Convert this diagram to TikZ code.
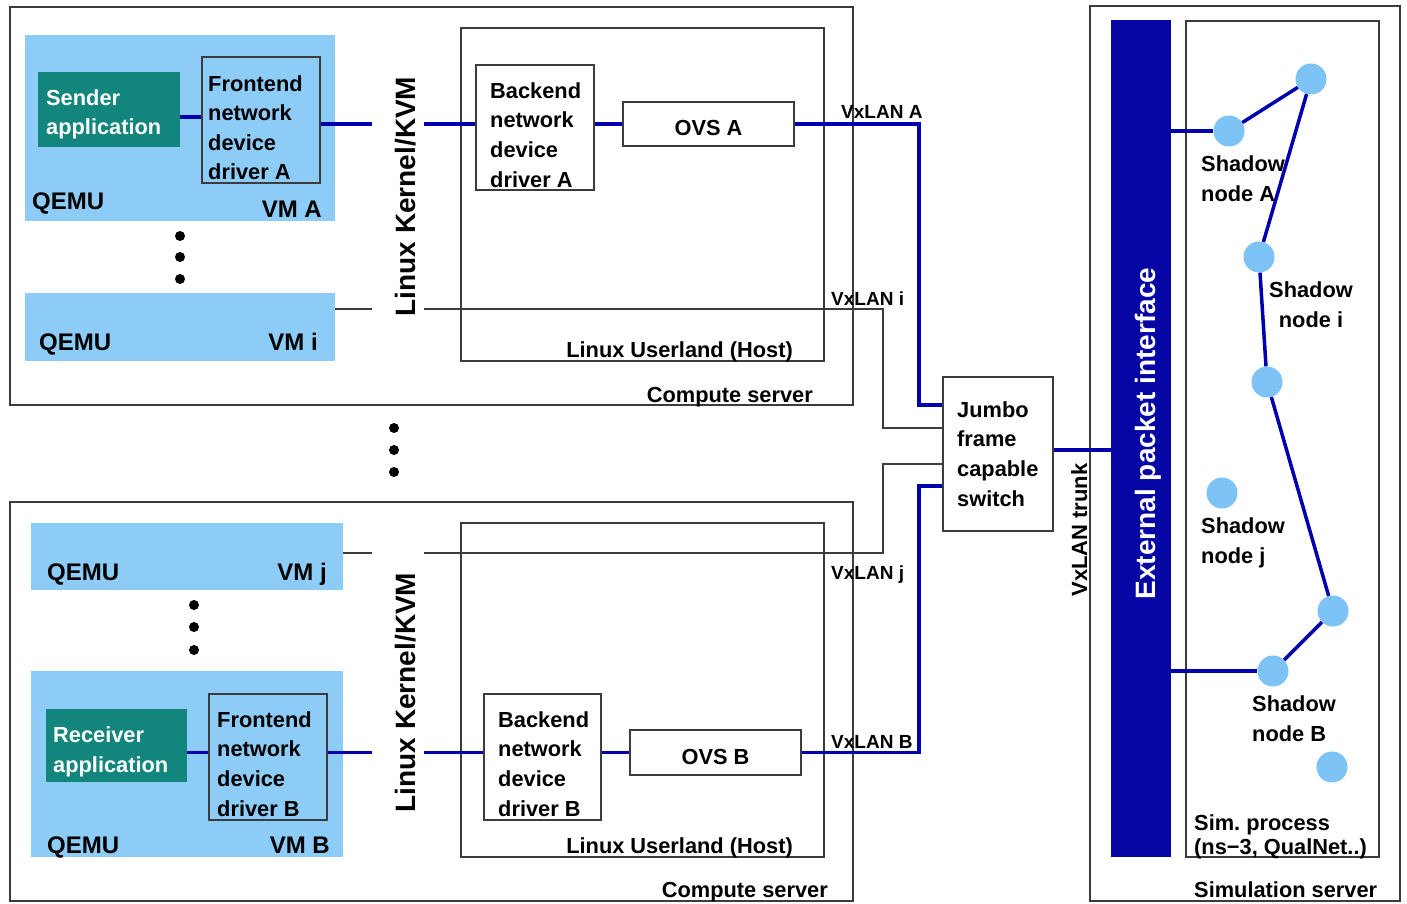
\documentclass[tikz,border=0pt]{standalone}
\usepackage{fontspec}
\setmainfont{Liberation Sans}
\definecolor{vmblue}{RGB}{140,204,246}
\definecolor{appteal}{RGB}{18,134,124}
\definecolor{linkblue}{RGB}{0,0,175}
\definecolor{epiblue}{RGB}{6,6,165}
\definecolor{shadowblue}{RGB}{125,195,245}
\definecolor{linegray}{RGB}{60,60,60}
\begin{document}
\begin{tikzpicture}[x=1pt,y=-1pt,
  boxline/.style={draw=linegray, line width=1.1pt, inner sep=0pt},
  vm/.style={fill=vmblue, inner sep=0pt},
  app/.style={fill=appteal, inner sep=0pt},
  link/.style={draw=linkblue, line width=3.5pt},
  thinlink/.style={draw=linegray, line width=1.1pt},
  lbl/.style={font=\bfseries\fontsize{21.8}{29.6}\selectfont, inner sep=0pt, align=left},
  bigl/.style={font=\bfseries\fontsize{24}{28}\selectfont, inner sep=0pt},
  vx/.style={font=\bfseries\fontsize{19}{23}\selectfont, inner sep=0pt},
  kern/.style={font=\bfseries\fontsize{28}{32}\selectfont, inner sep=0pt, rotate=90, anchor=base},
  dotc/.style={circle, fill=black, minimum size=10pt, inner sep=0pt},
  shnode/.style={circle, fill=shadowblue, minimum size=31pt, inner sep=0pt},
]
\fill[white] (0,0) rectangle (1407,904);
\useasboundingbox (0,0) rectangle (1407,904);

% ---------- top compute server ----------
\node[boxline, minimum width=843, minimum height=398] (csA) at (431.5,206) {};
\node[vm, minimum width=310, minimum height=186] (vmA) at (180,128) {};
\node[app, minimum width=142, minimum height=75] (sendA) at (109,109.5) {};
\node[boxline, minimum width=118, minimum height=126] (feA) at (261,120) {};
\node[vm, minimum width=310, minimum height=68] (vmI) at (180,327) {};
\node[boxline, minimum width=363, minimum height=333] (ulA) at (642.5,194.5) {};
\node[boxline, minimum width=118, minimum height=125] (beA) at (535,127.5) {};
\node[boxline, minimum width=171, minimum height=44] (ovsA) at (708.5,124) {};

% ---------- switch ----------
\node[boxline, minimum width=110, minimum height=154] (sw) at (998,454) {};

% ---------- bottom compute server ----------
\node[boxline, minimum width=843, minimum height=399] (csB) at (431.5,701.5) {};
\node[vm, minimum width=312, minimum height=67] (vmJ) at (187,556.5) {};
\node[vm, minimum width=312, minimum height=186] (vmB) at (187,764) {};
\node[app, minimum width=141, minimum height=73] (recvB) at (116.5,745.5) {};
\node[boxline, minimum width=118, minimum height=126] (feB) at (268,757) {};
\node[boxline, minimum width=363, minimum height=334] (ulB) at (642.5,690) {};
\node[boxline, minimum width=117, minimum height=126] (beB) at (542.5,757) {};
\node[boxline, minimum width=171, minimum height=45] (ovsB) at (715.5,752.5) {};

% ---------- simulation server ----------
\node[boxline, minimum width=310, minimum height=895] (ss) at (1245,453.5) {};
\node[fill=epiblue, inner sep=0pt, minimum width=60, minimum height=837] (epi) at (1141,438.5) {};
\node[boxline, minimum width=193, minimum height=836] (sp) at (1282.5,439) {};

% ---------- helper coordinates ----------
\coordinate (kl) at (372,0);
\coordinate (kr) at (424,0);
\coordinate (xa) at (919,0);
\coordinate (xi) at (883,0);
\coordinate (swA) at ([yshift=49pt]sw.west);
\coordinate (swI) at ([yshift=26pt]sw.west);
\coordinate (swJ) at ([yshift=-10pt]sw.west);
\coordinate (swB) at ([yshift=-32pt]sw.west);
\coordinate (sa) at ([yshift=-7.5pt]sendA.east);
\coordinate (li) at ([yshift=18pt]vmI.east);
\coordinate (lj) at ([yshift=3.5pt]vmJ.east);
\coordinate (st) at ([yshift=4pt]sw.east);

% ---------- connectors ----------
\draw[link] (sa) -- (sa -| feA.west);
\draw[link] (feA.east |- ovsA) -- (kl |- ovsA);
\draw[link] (kr |- ovsA) -- (beA.west |- ovsA);
\draw[link] (beA.east |- ovsA) -- (ovsA.west);
\draw[link] (ovsA.east) -- (ovsA.east -| xa) |- (swA);

\draw[thinlink] (li) -- (li -| kl);
\draw[thinlink] (li -| kr) -- (li -| xi) |- (swI);
\draw[thinlink] (lj) -- (lj -| kl);
\draw[thinlink] (lj -| kr) -- (lj -| xi) |- (swJ);

\draw[link] (recvB.east |- ovsB) -- (feB.west |- ovsB);
\draw[link] (feB.east |- ovsB) -- (kl |- ovsB);
\draw[link] (kr |- ovsB) -- (beB.west |- ovsB);
\draw[link] (beB.east |- ovsB) -- (ovsB.west);
\draw[link] (ovsB.east) -- (ovsB.east -| xa) |- (swB);

\draw[link] (st) -- (st -| epi.west);

% ---------- shadow nodes ----------
\node[shnode] (nA) at (1229,131) {};
\node[shnode] (n2) at (1311,79) {};
\node[shnode] (nI) at (1259,257) {};
\node[shnode] (n4) at (1267,382) {};
\node[shnode] (nJ) at (1222,493) {};
\node[shnode] (n6) at (1333,611) {};
\node[shnode] (nB) at (1273,671) {};
\node[shnode] (n8) at (1332,767) {};

\draw[link] (epi.east |- nA) -- (nA);
\draw[link] (nA) -- (n2);
\draw[link] (n2) -- (nI);
\draw[link] (nI) -- (n4);
\draw[link] (n4) -- (n6);
\draw[link] (n6) -- (nB);
\draw[link] (epi.east |- nB) -- (nB);

% ---------- dots ----------
\node[dotc] (d1) at (180,236) {};
\node[dotc] (d2) at (180,257) {};
\node[dotc] (d3) at (180,279) {};
\node[dotc] (d4) at (394,428) {};
\node[dotc] (d5) at (394,450) {};
\node[dotc] (d6) at (394,472) {};
\node[dotc] (d7) at (194,605) {};
\node[dotc] (d8) at (194,627) {};
\node[dotc] (d9) at (194,650) {};

% ---------- texts (multi-line nodes anchored at last baseline) ----------
\node[lbl, text=white, anchor=base west] (tSend) at (46,135) {Sender\\application};
\node[lbl, anchor=base west] (tFeA) at (208,180) {Frontend\\network\\device\\driver A};
\node[bigl, anchor=base west] (qA) at (32,209) {QEMU};
\node[bigl, anchor=base east] (vA) at (322,218) {VM A};
\node[bigl, anchor=base west] (qI) at (39,350) {QEMU};
\node[bigl, anchor=base east] (vI) at (318,350) {VM i};
\node[kern] (kA) at (415,196.5) {Linux Kernel/KVM};
\node[lbl, anchor=base west] (tBeA) at (490,187) {Backend\\network\\device\\driver A};
\node[lbl, anchor=base] (tOvsA) at ([yshift=-12pt]ovsA.center) {OVS A};
\node[lbl, anchor=base east] (tUlA) at (793,357) {Linux Userland (Host)};
\node[lbl, anchor=base east] (tCsA) at (813,402) {Compute server};

\node[vx, anchor=base west] (vxA) at (841,119) {VxLAN A};
\node[vx, anchor=base west] (vxI) at (831,305) {VxLAN i};
\node[vx, anchor=base west] (vxJ) at (831,579) {VxLAN j};
\node[vx, anchor=base west] (vxB) at (831,748) {VxLAN B};

\node[lbl, anchor=base west] (tSw) at (957,506) {Jumbo\\frame\\capable\\switch};

\node[bigl, anchor=base west] (qJ) at (47,580) {QEMU};
\node[bigl, anchor=base east] (vJ) at (327,580) {VM j};
\node[lbl, text=white, anchor=base west] (tRecv) at (53,772) {Receiver\\application};
\node[lbl, anchor=base west] (tFeB) at (217,816) {Frontend\\network\\device\\driver B};
\node[bigl, anchor=base west] (qB) at (47,853) {QEMU};
\node[bigl, anchor=base east] (vB) at (330,853) {VM B};
\node[kern] (kB) at (415,692.5) {Linux Kernel/KVM};
\node[lbl, anchor=base west] (tBeB) at (498,816) {Backend\\network\\device\\driver B};
\node[lbl, anchor=base] (tOvsB) at ([yshift=-11.5pt]ovsB.center) {OVS B};
\node[lbl, anchor=base east] (tUlB) at (793,853) {Linux Userland (Host)};
\node[lbl, anchor=base east] (tCsB) at (828,897) {Compute server};

\node[font=\bfseries\fontsize{22}{26}\selectfont, rotate=90, anchor=base, inner sep=0pt] (tTrunk) at (1087,530) {VxLAN trunk};
\node[font=\bfseries\fontsize{28}{32}\selectfont, text=white, rotate=90, anchor=base, inner sep=0pt] (tEpi) at (1155,433.5) {External packet interface};

\node[lbl, anchor=base west] (tNA) at (1201,201) {Shadow\\node A};
\node[lbl, align=center, anchor=base] (tNI) at (1311,327) {Shadow\\node i};
\node[lbl, anchor=base west] (tNJ) at (1201,563) {Shadow\\node j};
\node[lbl, anchor=base west] (tNB) at (1252,741) {Shadow\\node B};
\node[font=\bfseries\fontsize{21.8}{24}\selectfont, inner sep=0pt, align=left, anchor=base west] (tSp) at (1194,854) {Sim.\ process\\(ns−3, QualNet..)};
\node[lbl, anchor=base west] (tSs) at (1194,897) {Simulation server};
\end{tikzpicture}
\end{document}
